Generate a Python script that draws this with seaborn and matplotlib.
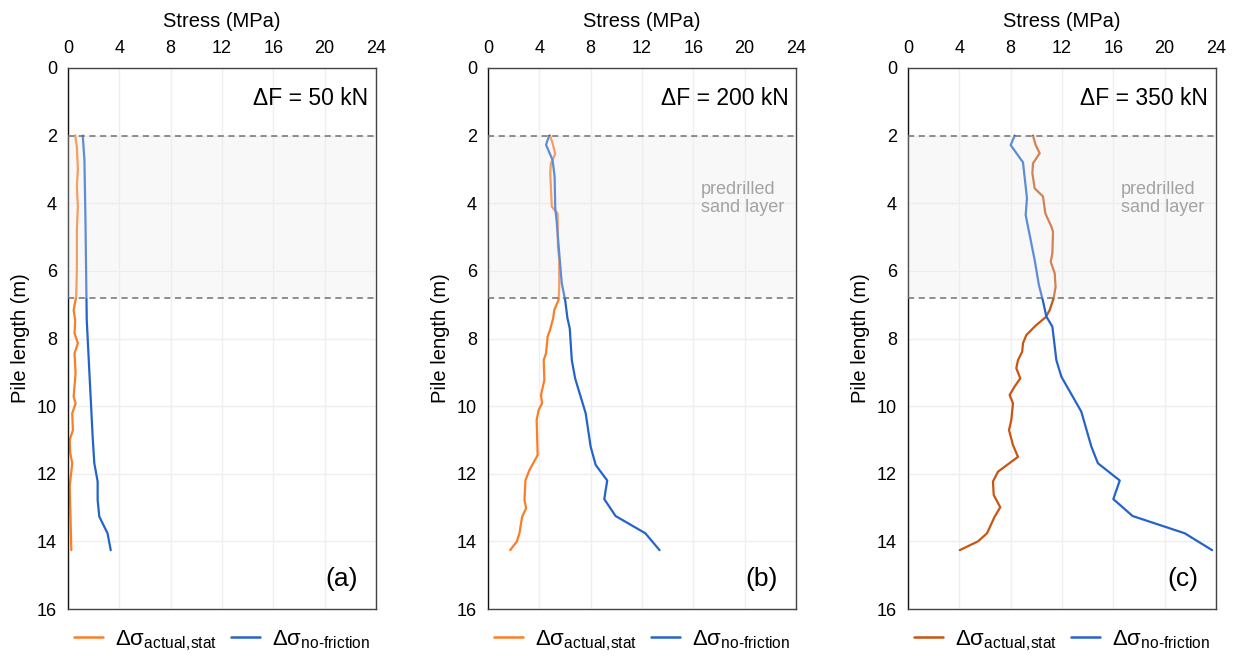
import numpy as np
import pandas as pd
import matplotlib
matplotlib.use("Agg")
import matplotlib.pyplot as plt
import seaborn as sns

# panel (a), dF = 50 kN
depth_a_act = [2.0, 2.33, 3.0, 3.5, 4.1, 4.79, 5.97, 6.76, 7.16, 7.45, 7.85, 8.14, 8.44, 9.03,
               9.72, 9.92, 10.21, 10.71, 11.0, 11.4, 11.69, 12.38, 13.37, 14.26]
stress_a_act = [0.56, 0.69, 0.77, 0.69, 0.77, 0.69, 0.69, 0.64, 0.44, 0.56, 0.51, 0.77, 0.51, 0.59,
                0.44, 0.59, 0.33, 0.38, 0.13, 0.18, 0.33, 0.13, 0.2, 0.26]
depth_a_nf = [2.0, 2.72, 4.49, 5.97, 7.45, 9.03, 10.9, 11.69, 12.23, 12.78, 13.27, 13.76, 14.26]
stress_a_nf = [1.15, 1.28, 1.36, 1.41, 1.46, 1.67, 1.92, 2.05, 2.31, 2.31, 2.44, 3.08, 3.33]

# panel (b), dF = 200 kN
depth_b_act = [2.0, 2.22, 2.54, 2.82, 3.11, 4.1, 4.15, 4.3, 5.28, 5.68, 6.47, 6.86, 7.16, 7.4,
               7.75, 7.94, 8.44, 8.64, 9.23, 9.67, 9.92, 10.11, 10.41, 11.45, 11.89, 12.19,
               12.78, 13.02, 13.27, 13.76, 14.0, 14.26]
stress_b_act = [4.83, 5.03, 5.24, 4.9, 4.85, 4.97, 5.08, 5.42, 5.45, 5.55, 5.55, 5.5, 5.16, 5.08,
                4.83, 4.65, 4.52, 4.34, 4.39, 4.13, 4.21, 3.95, 3.79, 3.87, 3.23, 2.92,
                2.84, 2.97, 2.66, 2.45, 2.25, 1.73]
depth_b_nf = [2.0, 2.27, 2.72, 3.21, 4.15, 4.49, 5.48, 6.37, 6.86, 7.4, 7.7, 8.64, 9.18, 10.21,
              11.2, 11.74, 12.2, 12.75, 13.25, 13.76, 14.26]
stress_b_nf = [4.77, 4.52, 5.03, 5.19, 5.24, 5.34, 5.55, 5.75, 6.01, 6.19, 6.37, 6.53, 6.79, 7.61,
               8.0, 8.39, 9.29, 9.06, 9.94, 12.26, 13.37]

# panel (c), dF = 350 kN
depth_c_act = [2.0, 2.28, 2.52, 2.82, 3.11, 3.56, 3.8, 4.3, 4.69, 4.84, 5.48, 5.73, 6.07, 6.47,
               6.81, 7.16, 7.37, 7.6, 7.9, 8.14, 8.39, 8.64, 8.88, 9.18, 9.42, 9.67, 9.92,
               10.41, 10.71, 11.15, 11.5, 11.94, 12.23, 12.63, 12.99, 13.27, 13.76, 14.0, 14.26]
stress_c_act = [9.74, 9.95, 10.26, 9.74, 9.69, 9.87, 10.52, 10.7, 11.17, 11.3, 11.25, 11.12, 11.43,
                11.5, 11.35, 11.04, 10.73, 10.0, 9.22, 8.96, 8.9, 8.57, 8.44, 8.75, 8.31, 7.92,
                8.18, 8.05, 7.87, 8.18, 8.57, 7.01, 6.62, 6.68, 7.19, 6.75, 6.16, 5.45, 4.03]
depth_c_nf = [2.0, 2.28, 2.79, 3.85, 4.35, 5.68, 6.42, 6.86, 7.35, 7.65, 8.64, 9.13, 10.16, 11.2,
              11.69, 12.2, 12.75, 13.25, 13.76, 14.26]
stress_c_nf = [8.31, 8.0, 8.96, 9.27, 9.17, 9.87, 10.2, 10.5, 10.78, 11.25, 11.56, 11.95, 13.5,
               14.29, 14.8, 16.5, 16.0, 17.5, 21.56, 23.7]

loads = ["ΔF = 50 kN", "ΔF = 200 kN", "ΔF = 350 kN"]
panel_tags = ["(a)", "(b)", "(c)"]
series_names = ["Δσ$_{\\mathregular{actual,\\!stat}}$", "Δσ$_{\\mathregular{no\\text{-}friction}}$"]
layer_top, layer_bottom = 2.0, 6.8

sns.set_style("white")
plt.rcParams["font.family"] = ["Liberation Sans", "DejaVu Sans"]
plt.rcParams["mathtext.fontset"] = "custom"
plt.rcParams["mathtext.rm"] = "Liberation Sans"
plt.rcParams["text.color"] = "black"
plt.rcParams["axes.labelcolor"] = "black"
plt.rcParams["xtick.color"] = "black"
plt.rcParams["ytick.color"] = "black"

panels = [
    (depth_a_act, stress_a_act, depth_a_nf, stress_a_nf, "#fb7d25"),
    (depth_b_act, stress_b_act, depth_b_nf, stress_b_nf, "#fb7d25"),
    (depth_c_act, stress_c_act, depth_c_nf, stress_c_nf, "#c95512"),
]
blue = "#2563cc"

fig = plt.figure(figsize=(12.38, 6.61), dpi=100)
lefts = [68 / 1238, 488 / 1238, 908 / 1238]

for i, (d_act, s_act, d_nf, s_nf, orange) in enumerate(panels):
    ax = fig.add_axes([lefts[i], 52 / 661, 308 / 1238, 541 / 661])
    df = pd.concat([
        pd.DataFrame({"depth": d_act, "stress": s_act, "series": series_names[0]}),
        pd.DataFrame({"depth": d_nf, "stress": s_nf, "series": series_names[1]}),
    ])
    sns.lineplot(data=df, x="stress", y="depth", hue="series", sort=False, estimator=None,
                 orient="y", palette=[orange, blue], linewidth=1.6, ax=ax, zorder=2)

    # sand layer shading drawn over the lines so they look faded inside it
    ax.axhspan(layer_top, layer_bottom, facecolor="#ebebeb", alpha=0.3, edgecolor="none", zorder=3)
    for yy in (layer_top, layer_bottom):
        ax.axhline(yy, color="#707070", linestyle=(0, (4, 3)), linewidth=1.1, zorder=4)

    ax.set_xlim(0, 24)
    ax.set_ylim(16, 0)
    ax.set_xticks(range(0, 25, 4))
    ax.set_yticks(range(0, 17, 2))
    ax.xaxis.tick_top()
    ax.xaxis.set_label_position("top")
    ax.set_xlabel("Stress (MPa)", fontsize=14.5, labelpad=9)
    ax.set_ylabel("Pile length (m)", fontsize=14.5, labelpad=5)
    ax.tick_params(labelsize=13, length=0, pad=8)
    ax.grid(True, color="#efefef", linewidth=1)
    ax.set_axisbelow(True)
    for sp in ax.spines.values():
        sp.set_color("#444444")
        sp.set_linewidth(1)
    ax.spines["left"].set_color("#111111")

    ax.text(23.4, 0.9, loads[i], fontsize=16.5, ha="right", va="center")
    ax.text(22.6, 15.1, panel_tags[i], fontsize=19, ha="right", va="center")
    if i > 0:
        ax.text(16.6, 3.85, "predrilled\nsand layer", fontsize=13, color="#a3a3a3",
                ha="left", va="center", linespacing=1.1)

    leg = ax.legend(loc="center", bbox_to_anchor=(0.5, -0.058), ncol=2, frameon=False,
                    fontsize=16, handlelength=1.3, columnspacing=0.6, handletextpad=0.55)
    for line in leg.get_lines():
        line.set_linewidth(1.8)

fig.savefig("out.png", dpi=100)
